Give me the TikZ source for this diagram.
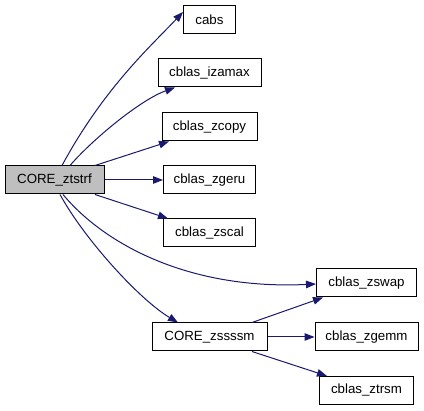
\documentclass[tikz,border=0pt]{standalone}
\usepackage{fontspec}
\setmainfont{Liberation Sans}
\usetikzlibrary{arrows.meta}
\definecolor{edgeblue}{RGB}{25,25,112}
\definecolor{nodegrey}{RGB}{191,191,191}
\begin{document}
\begin{tikzpicture}[x=1pt,y=-1pt,
  fn/.style={draw=black,line width=1pt,minimum height=28pt,inner sep=0pt,
    font=\fontsize{13.3}{16}\selectfont},
  call/.style={draw=edgeblue,line width=1pt,-{Triangle[length=10pt,width=7.5pt]}}]
\useasboundingbox (0,0) rectangle (424,411);
\node[fn,fill=nodegrey,minimum width=99pt] (ztstrf) at (54.5,180) {CORE\_ztstrf};
\node[fn,minimum width=52pt] (cabs) at (209.5,20) {cabs};
\node[fn,minimum width=103pt] (izamax) at (209.5,73) {cblas\_izamax};
\node[fn,minimum width=95pt] (zcopy) at (209.5,127) {cblas\_zcopy};
\node[fn,minimum width=92pt] (zgeru) at (209.5,180) {cblas\_zgeru};
\node[fn,minimum width=92pt] (zscal) at (209.5,233) {cblas\_zscal};
\node[fn,minimum width=115pt] (zssssm) at (209.5,337) {CORE\_zssssm};
\node[fn,minimum width=100pt] (zswap) at (366.5,283) {cblas\_zswap};
\node[fn,minimum width=103pt] (zgemm) at (366.5,337) {cblas\_zgemm};
\node[fn,minimum width=94pt] (ztrsm) at (366.5,390.5) {cblas\_ztrsm};

\draw[call] ([xshift=7.5pt]ztstrf.north) .. controls (104,88) and (151,46) .. ([yshift=8pt]cabs.west);
\draw[call] ([xshift=15.5pt]ztstrf.north) .. controls (92,140) and (140,100) .. ([xshift=-34.5pt]izamax.south);
\draw[call] ([xshift=40.5pt]ztstrf.north) -- ([xshift=-40.5pt]zcopy.south);
\draw[call] (ztstrf.east) -- (zgeru.west);
\draw[call] ([xshift=40.5pt]ztstrf.south) -- ([xshift=-41.5pt]zscal.north);
\draw[call] ([xshift=8.5pt]ztstrf.south) .. controls (105,245) and (190,290) .. ([yshift=-1pt]zswap.west);
\draw[call] ([xshift=5.5pt]ztstrf.south) .. controls (85,240) and (140,300) .. ([xshift=-31.5pt]zssssm.north);
\draw[call] ([xshift=42.5pt]zssssm.north) -- ([xshift=-43.5pt]zswap.south);
\draw[call] (zssssm.east) -- (zgemm.west);
\draw[call] ([xshift=42.5pt]zssssm.south) -- ([xshift=-39.5pt]ztrsm.north);
\end{tikzpicture}
\end{document}
